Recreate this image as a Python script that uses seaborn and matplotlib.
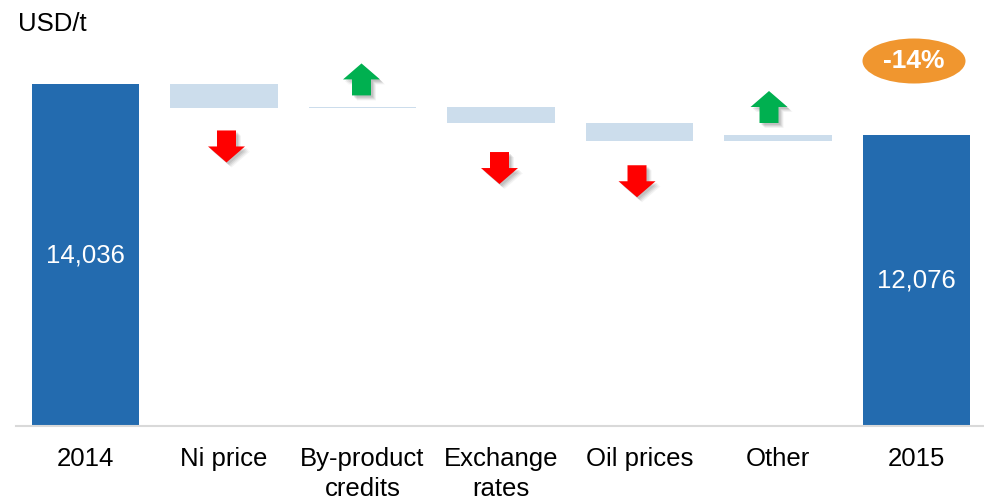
import matplotlib
matplotlib.use("Agg")
import matplotlib.pyplot as plt
import matplotlib.transforms as mtransforms
from matplotlib.patches import Polygon, Ellipse
import numpy as np
import pandas as pd
import seaborn as sns

# Cash cost bridge, USD per tonne
categories = ["2014", "Ni price", "By-product\ncredits", "Exchange\nrates",
              "Oil prices", "Other", "2015"]
start_value = 14036
changes = [-940, 40, -600, -700, 240]
end_value = 12076
change_label = "-14%"

sns.set_theme(style="white")
plt.rcParams["font.family"] = ["Liberation Sans", "DejaVu Sans"]

# Build bar bottoms and heights for the waterfall
bottoms, heights = [0], [start_value]
level = start_value
for c in changes:
    new_level = level + c
    bottoms.append(min(level, new_level))
    heights.append(abs(c))
    level = new_level
bottoms.append(0)
heights.append(end_value)

df = pd.DataFrame({"category": categories, "height": heights})

TOTAL = "#236BAF"
STEP = "#CCDDEC"
colors = [TOTAL] + [STEP] * len(changes) + [TOTAL]

fig = plt.figure(figsize=(9.84, 5.0), dpi=100)
ax = fig.add_axes([0.0165, 0.148, 0.9853, 0.772])

sns.barplot(data=df, x="category", y="height", hue="category",
            palette=colors, legend=False, width=0.773, saturation=1,
            ax=ax)
for patch, b, h in zip(ax.patches, bottoms, heights):
    patch.set_y(b)
    patch.set_height(h)
    patch.set_linewidth(0)

ax.set_xlim(-0.5, len(categories) - 0.5)
ax.set_ylim(893, 15727)

# Value labels inside total bars
for i, v in [(0, start_value), (len(categories) - 1, end_value)]:
    ax.text(i, v / 2 + 893 / 2, f"{v:,}", ha="center", va="center",
            color="white", fontsize=18.5)

# Axes styling
for s in ["left", "right", "top"]:
    ax.spines[s].set_visible(False)
ax.spines["bottom"].set_color("#D9D9D9")
ax.spines["bottom"].set_linewidth(1.5)
ax.set_yticks([])
ax.set_xlabel("")
ax.set_ylabel("")
ax.tick_params(axis="x", length=0, pad=15, labelsize=18.5, labelcolor="black")
for lbl in ax.get_xticklabels():
    lbl.set_linespacing(1.3)
    lbl.set_ha("center")

# Direction arrows (pixel geometry anchored to each step bar)
down = np.array([(-9.5, 0), (9.5, 0), (9.5, -16), (18.5, -16), (0, -32),
                 (-18.5, -16), (-9.5, -16)])
up = down * np.array([1, -1])
arrow_dx = [2.5, -1, -1.5, -2.5, -9]
arrow_gap = [22, 12, 29, 24, 12]
for k, c in enumerate(changes):
    i = k + 1
    b, h = bottoms[i], heights[i]
    if c < 0:
        shape, anchor_y, sign, col = down, b, -1, "#FF0000"
    else:
        shape, anchor_y, sign, col = up, b + h, 1, "#00B050"
    offs = mtransforms.ScaledTranslation(i, anchor_y, ax.transData)
    base = mtransforms.Affine2D().translate(arrow_dx[k], sign * arrow_gap[k])
    # soft drop shadow
    for d, a in [(5, 0.06), (4, 0.08), (3, 0.1), (2, 0.12)]:
        sh = Polygon(shape, closed=True, facecolor="#404040", edgecolor="none",
                     alpha=a,
                     transform=base + mtransforms.Affine2D().translate(d, -d) + offs,
                     clip_on=False)
        ax.add_patch(sh)
    ax.add_patch(Polygon(shape, closed=True, facecolor=col, edgecolor="none",
                         transform=base + offs, clip_on=False))

# Percentage change badge
fig.patches.append(Ellipse((914 / 984, 1 - 61 / 500), 103 / 984, 45 / 500,
                           transform=fig.transFigure, facecolor="#F0962F",
                           edgecolor="none"))
fig.text(914 / 984, 1 - 61 / 500, change_label, ha="center", va="center",
         color="white", fontsize=19, fontweight="bold")

fig.text(18 / 984, 1 - 31 / 500, "USD/t", ha="left", va="baseline",
         fontsize=18.5, color="black")

fig.savefig("out.png", dpi=100, facecolor="white")
